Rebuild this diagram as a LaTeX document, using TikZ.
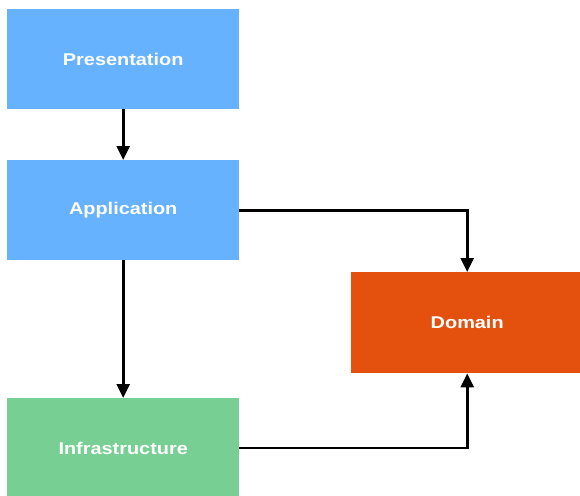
\documentclass[tikz,border=0pt]{standalone}
\usepackage{fontspec}
\setmainfont{Liberation Sans}
\newfontfamily\boxfont[FakeStretch=1.17]{Liberation Sans}
\usetikzlibrary{arrows.meta}
\definecolor{pblue}{HTML}{66B2FF}
\definecolor{igreen}{HTML}{77CF93}
\definecolor{dorange}{HTML}{E4510F}
\begin{document}
\begin{tikzpicture}[x=1pt,y=-1pt,
  layer/.style={minimum width=232pt,minimum height=100pt,inner sep=0pt,anchor=north west,
    text=white,font=\boxfont\fontsize{17}{20}\selectfont\bfseries},
  conn/.style={line width=2.6pt,-{Triangle[length=14pt,width=13pt]}}]
\useasboundingbox (0,0) rectangle (580,495);
\node[layer,fill=pblue] (pres) at (7,9) {Presentation};
\node[layer,fill=pblue] (app) at (7,160) {Application};
\node[layer,fill=igreen,minimum height=100pt] (infra) at (7,398) {Infrastructure};
\node[layer,fill=dorange,minimum width=232pt,minimum height=101pt] (dom) at (351,272) {Domain};
\draw[conn] (pres.south) -- (app.north);
\draw[conn] (app.south) -- (infra.north);
\draw[conn] (app.east) -| (dom.north);
\draw[conn] ([yshift=-50pt]infra.north east) -| (dom.south);
\end{tikzpicture}
\end{document}
